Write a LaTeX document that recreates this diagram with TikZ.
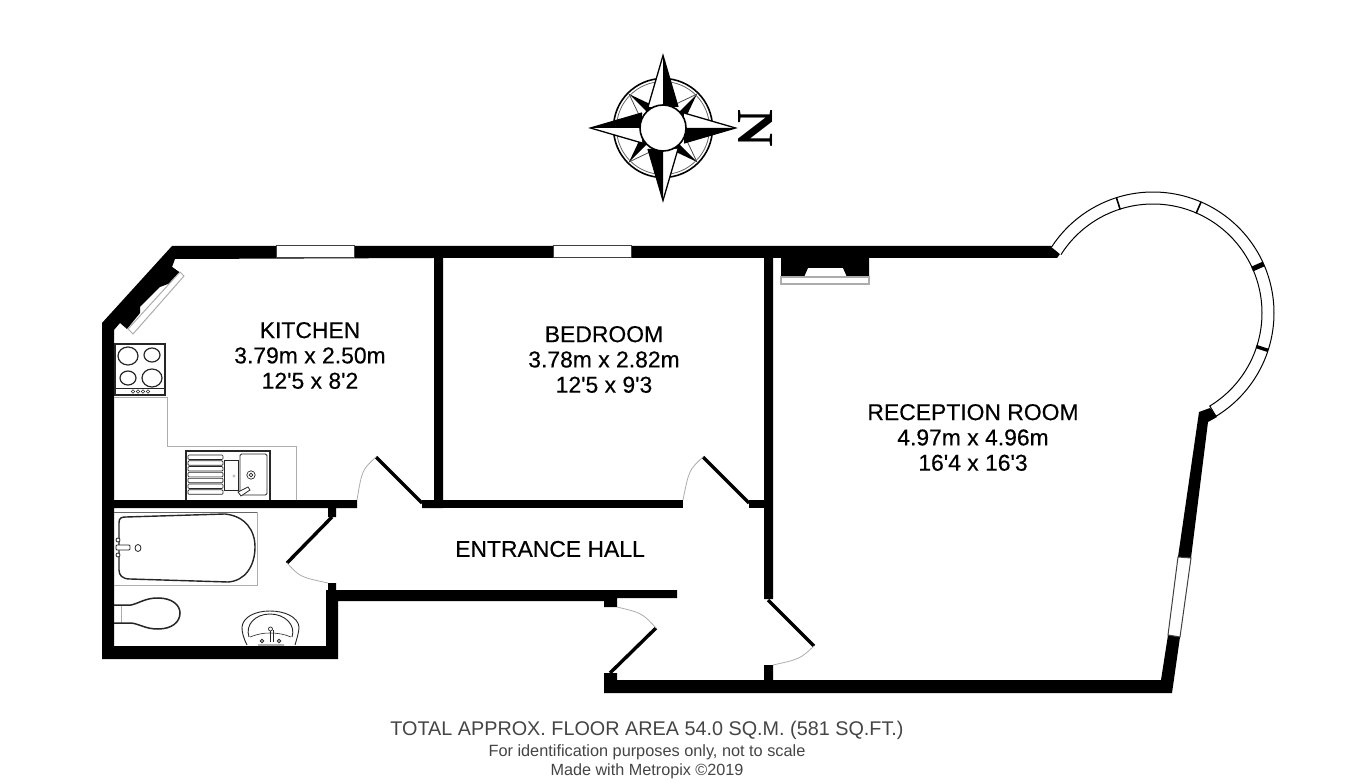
\documentclass[tikz,border=0pt]{standalone}
\usepackage{fontspec}
\setmainfont{Liberation Sans}
\newfontfamily\nfont{Liberation Serif}
\newfontfamily\roomfont[FakeBold=0.35]{Liberation Sans}
\newfontfamily\notefont{Liberation Sans}
\definecolor{fixg}{gray}{0.68}
\definecolor{cap}{gray}{0.27}
\tikzset{
  wall/.style={fill=black,draw=none},
  leaf/.style={draw=black,line width=3.4pt},
  swing/.style={draw=fixg,line width=0.8pt},
  winpane/.style={draw=black!75,line width=1pt,fill=white},
  fixture/.style={draw=black!85,line width=1pt},
  fixlight/.style={draw=fixg,line width=1pt},
  room/.style={align=center,font=\roomfont\fontsize{22.9}{25.3}\selectfont,text=black,inner sep=0pt},
  note/.style={text=cap,inner sep=0pt}
}
\begin{document}
\begin{tikzpicture}[x=1pt,y=-1pt]
\useasboundingbox (0,0) rectangle (1350,783);
\fill[white] (0,0) rectangle (1350,783);
% ---------- compass
\def\cx{663}\def\cy{128}
\draw[line width=1.6pt] (\cx,\cy) circle (49.5);
\draw[line width=0.8pt,black!60] (\cx,\cy) circle (46.5);
\foreach \a in {45,135,225,315}{
  \begin{scope}[shift={(\cx,\cy)},rotate=\a]
    \fill[white] (0,-48) -- (-11,-17) -- (11,-17) -- cycle;
    \draw[line width=0.8pt,black!70] (0,-48) -- (-11,-17);
    \fill[black] (0,-48) -- (11,-17) -- (0,-17) -- cycle;
  \end{scope}}
\foreach \a in {0,90,180,270}{
  \begin{scope}[shift={(\cx,\cy)},rotate=\a]
    \fill[white] (0,-72.5) -- (-15,-21) -- (15,-21) -- cycle;
    \fill[black] (0,-72.5) -- (15,-21) -- (0,-21) -- cycle;
    \draw[line width=1.3pt,line join=miter] (-15,-21) -- (0,-72.5) -- (15,-21);
  \end{scope}}
\draw[line width=1.6pt,fill=white] (\cx,\cy) circle (23);
\node[rotate=-90,inner sep=0pt,font=\nfont\bfseries\fontsize{52}{52}\selectfont] (north) at (756,128) {N};
% ---------- walls
\fill[wall] (102,323) -- (172,246) -- (1051,246) -- (1060,254) -- (1057,258) -- (869,258) -- (869,277)
  -- (847,277) -- (843,268) -- (808,268) -- (804,277) -- (781,277) -- (781,258) -- (773,258)
  -- (773,599) -- (764,599) -- (764,258) -- (443,258) -- (443,508) -- (422,508) -- (422,500) -- (434,500) -- (434,258)
  -- (175,259) -- (172,267) -- (179,272) -- (168,284) -- (160,287) -- (140,307) -- (140,313) -- (127,329) -- (120,323) -- (114,330)
  -- (114,500) -- (357,500) -- (357,508) -- (336,508) -- (336,517) -- (328,517) -- (328,508) -- (114,508)
  -- (114,646) -- (326,646) -- (326,590) -- (328,590) -- (328,583) -- (336,583) -- (336,590) -- (338,590) -- (617,590) -- (617,590)
  -- (677,590) -- (677,598) -- (617,598) -- (617,607) -- (604,607) -- (604,601) -- (338,601) -- (338,659) -- (102,659) -- cycle;
\fill[wall] (443,500) rectangle (683,508);
\fill[wall] (749,500) rectangle (764,508);
\fill[wall] (604,693) -- (604,673) -- (617,673) -- (617,680) -- (764,680) -- (764,665) -- (773,665) -- (773,680)
  -- (1161,680) -- (1168,635) -- (1180,637) -- (1172,693) -- cycle;
\fill[wall] (1178,557) -- (1191,558) -- (1208,422) -- (1217,417) -- (1210,408) -- (1199,412) -- cycle;
% ---------- straight windows
\draw[winpane] (276,246) rectangle (354,258);
\draw[winpane] (553,246) rectangle (631,258);
\draw[winpane] (1178,557) -- (1191,558) -- (1180,637) -- (1168,635) -- cycle;
\draw[fixlight,fill=white] (184,276) -- (133,334) -- (128,329) -- (180,272) -- cycle;
\fill[wall] (179,272) -- (168,284) -- (172,267) -- cycle;
\draw[fixlight,line width=1.2pt,fill=white] (781,277) rectangle (869,284);
% ---------- bay window
\draw[line width=1pt,fill=white,smooth]
  plot[domain=-147:58.6,samples=80] ({1153+121*cos(\x)},{313+121*sin(\x)})
  -- plot[domain=58.6:-147.6,samples=80] ({1153+109*cos(\x)},{313+109*sin(\x)}) ;
\foreach \a/\w in {-107.6/1.6,-66.6/1.6,-23.9/5,18/3.4}{
  \draw[line width=\w pt] ({1153+108.5*cos(\a)},{313+108.5*sin(\a)}) -- ({1153+121*cos(\a)},{313+121*sin(\a)});}
% ---------- doors
\coordinate (kh) at (422,503); \coordinate (kt) at (376,457); \coordinate (kj) at (357,500);
\draw[leaf] (kh) -- (kt); \draw[swing] (kt) .. controls (362,470) .. (kj);
\coordinate (bh) at (749,503); \coordinate (bt) at (703,457); \coordinate (bj) at (683,500);
\draw[leaf] (bh) -- (bt); \draw[swing] (bt) .. controls (689,470) .. (bj);
\coordinate (wh) at (332,517); \coordinate (wt) at (287,563); \coordinate (wj) at (328,583);
\draw[leaf] (wh) -- (wt); \draw[swing] (wt) .. controls (300,577) .. (wj);
\coordinate (fh) at (610,673); \coordinate (ft) at (656,628); \coordinate (fj) at (617,607);
\draw[leaf] (fh) -- (ft); \draw[swing] (ft) .. controls (642,613) .. (fj);
\coordinate (rh) at (768,600); \coordinate (rt) at (814,646); \coordinate (rj) at (773,665);
\draw[leaf] (rh) -- (rt); \draw[swing] (rt) .. controls (800,659) .. (rj);
% ---------- kitchen fittings
\draw[fixlight] (114,398) -- (167,398) -- (167,447) -- (296,447) -- (296,500);
\draw[fixture,line width=1.3pt] (115,344) rectangle (165,395);
\draw[fixture,line width=1.2pt] (128,356) ellipse (10 and 9) (152,355) ellipse (8 and 7)
  (128,378) ellipse (8 and 7) (152,378) ellipse (10 and 9);
\draw[fixture,line width=0.7pt] (115,388) -- (165,388);
\foreach \k in {133,138,143,148}{\draw[fixture,line width=0.5pt] (\k,391.5) circle (1.7);}
\draw[fixture,line width=1.3pt] (186,500) -- (186,451) -- (270,451) -- (270,500);
\foreach \k in {0,...,6}{\draw[fixture,line width=0.7pt,rounded corners=1pt] (188,455+\k*5.8) rectangle (223,459.5+\k*5.8);}
\draw[fixture,line width=0.8pt] (224,460) rectangle (238,490);
\draw[fixture,line width=0.8pt,rounded corners=1.5pt] (240,454) rectangle (267,495);
\draw[fixture,line width=0.7pt] (251,475) circle (4.2) (251,475) circle (1.8);
\draw[fixlight,line width=0.6pt] (234,476) circle (1.2);
\draw[fixture,line width=0.8pt,fill=white] (238,492) -- (248,487) -- (250,490) -- (241,496) -- cycle;
% ---------- bathroom fittings
\draw[fixlight] (114,512) -- (257,512) -- (257,585) -- (114,585);
\draw[black!60,line width=0.8pt] (114,512) -- (257,512);
\draw[fixture,line width=1.4pt] (119,523) .. controls (119,518) and (121,517) .. (126,517) -- (225,514)
  .. controls (245,516) and (255,530) .. (255,547) .. controls (255,566) and (245,581) .. (228,582)
  -- (130,579) .. controls (122,579) and (119,575) .. (119,570) -- cycle;
\draw[fixture,line width=0.9pt,fill=white,rounded corners=1pt] (116,545) rectangle (130,550);
\draw[fixture,line width=0.8pt,fill=white] (118,540) circle (2) (118,555) circle (2);
\draw[fixture,line width=0.8pt] (138,548) ellipse (3 and 3.5);
\draw[fixlight,line width=0.8pt] (121,605) -- (121,623);
\draw[fixture,line width=1.5pt] (114,605) -- (131,605) .. controls (140,603) and (145,598) .. (158,598)
  .. controls (172,598) and (180,605) .. (180,613) .. controls (180,622) and (172,629) .. (158,629)
  .. controls (145,629) and (140,624) .. (131,623) -- (114,623);
\draw[fixture,line width=0.9pt] (247,645) .. controls (243,637) and (242,632) .. (242,627)
  .. controls (243,617) and (255,611) .. (270,611) .. controls (285,611) and (298,617) .. (299,627)
  .. controls (299,632) and (297,638) .. (295,645);
\draw[fixture,line width=0.9pt] (249,637) .. controls (245,625) and (255,614) .. (270,614)
  .. controls (285,614) and (296,625) .. (292,637);
\draw[fixture,line width=0.6pt] (250,637) .. controls (258,634) and (263,633) .. (270,633)
  .. controls (277,633) and (284,634) .. (291,637);
\draw[fixture,line width=0.9pt] (270,630) -- (270,642) (273,630) -- (273,642);
\draw[fixture,line width=0.7pt,fill=white] (270.5,629) circle (2);
\draw[fixture,line width=0.8pt] (262,641) circle (1.8) (279,641) circle (1.8) (258,645) -- (284,645);
% ---------- labels
\node[room] (kitchen) at (310,355.5) {KITCHEN\\3.79m x 2.50m\\12'5 x 8'2};
\node[room] (bedroom) at (604,359.5) {BEDROOM\\3.78m x 2.82m\\12'5 x 9'3};
\node[room] (reception) at (973,437.5) {RECEPTION ROOM\\4.97m x 4.96m\\16'4 x 16'3};
\node[room] (hall) at (550,549) {ENTRANCE HALL};
\node[note,font=\notefont\fontsize{19.8}{22}\selectfont] (area) at (647,730) {TOTAL APPROX. FLOOR AREA 54.0 SQ.M. (581 SQ.FT.)};
\node[note,font=\notefont\fontsize{16.3}{18}\selectfont] (id) at (647,752) {For identification purposes only, not to scale};
\node[note,font=\notefont\fontsize{16.2}{18}\selectfont] (made) at (647,771) {Made with Metropix ©2019};
\end{tikzpicture}
\end{document}
